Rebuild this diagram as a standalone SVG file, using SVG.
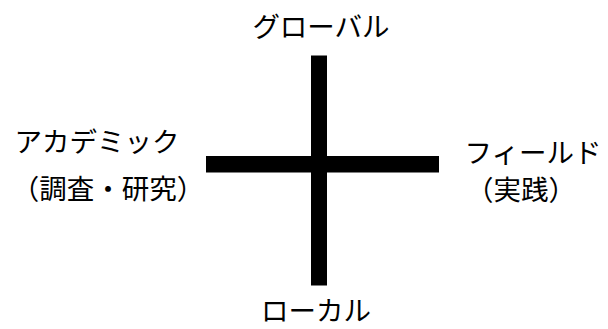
<svg xmlns="http://www.w3.org/2000/svg" width="608" height="329" viewBox="0 0 608 329">
<style>
.lbl{font-family:"Noto Sans CJK JP","Noto Sans CJK SC",sans-serif;font-size:27.5px;fill:#000;text-anchor:middle}
.bar{fill:#000}
</style>
<rect width="608" height="329" fill="#fff"/>
<g id="connectors">
<rect class="bar" x="311" y="55.5" width="16" height="230"/>
<rect class="bar" x="206" y="156" width="233" height="16.5"/>
</g>
<g id="global"><text class="lbl" x="321" y="37">グローバル</text></g>
<g id="local"><text class="lbl" x="316" y="321">ローカル</text></g>
<g id="academic"><text class="lbl" x="97" y="152">アカデミック</text><text class="lbl" x="108" y="199">（調査・研究）</text></g>
<g id="field"><text class="lbl" x="533" y="163">フィールド</text><text class="lbl" x="521" y="200">（実践）</text></g>
</svg>
